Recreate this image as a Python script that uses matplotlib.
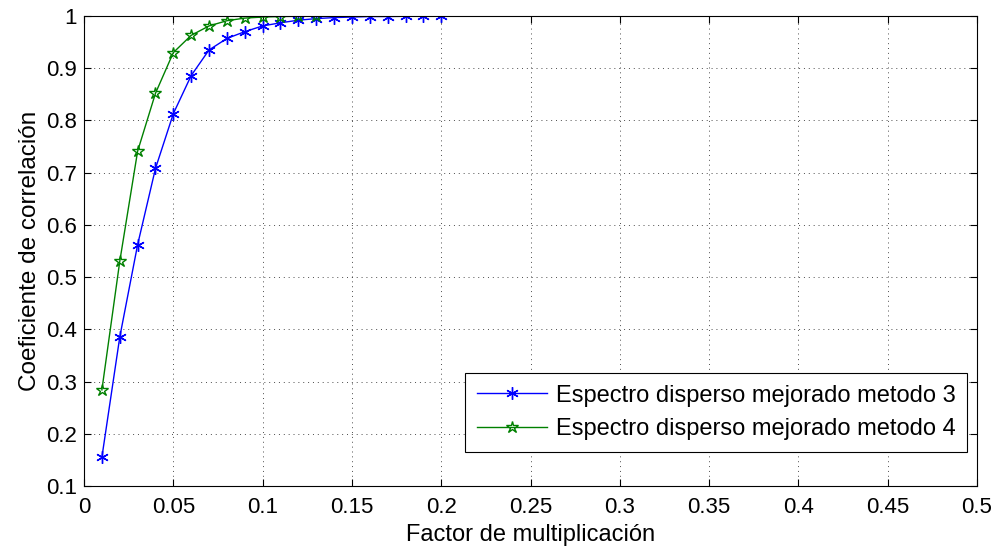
import matplotlib
matplotlib.use("Agg")
import matplotlib.pyplot as plt

plt.rcParams["font.family"] = ["Liberation Sans", "DejaVu Sans"]

# --- Data ---
x_m3 = [0.01, 0.02, 0.03, 0.04, 0.05, 0.06, 0.07, 0.08, 0.09, 0.10,
        0.11, 0.12, 0.13, 0.14, 0.15, 0.16, 0.17, 0.18, 0.19, 0.20]
y_m3 = [0.155, 0.385, 0.562, 0.708, 0.813, 0.886, 0.935, 0.957, 0.970, 0.981,
        0.987, 0.992, 0.995, 0.997, 0.998, 0.999, 0.999, 0.9995, 0.9997, 0.9998]

x_m4 = [0.01, 0.02, 0.03, 0.04, 0.05, 0.06, 0.07, 0.08, 0.09, 0.10,
        0.11, 0.12, 0.13]
y_m4 = [0.284, 0.530, 0.741, 0.852, 0.930, 0.963, 0.981, 0.991, 0.996, 0.998,
        0.999, 0.9995, 0.9997]

labels = ["Espectro disperso mejorado metodo 3",
          "Espectro disperso mejorado metodo 4"]

fig = plt.figure(figsize=(9.98, 5.5), dpi=100)
ax = fig.add_axes([0.0842, 0.1164, 0.8948, 0.8545])

ax.plot(x_m3, y_m3, color="#0000ff", lw=1.0, marker=(6, 2, 0), ms=9,
        markeredgewidth=1.0, label=labels[0])
ax.plot(x_m4, y_m4, color="#008000", lw=1.0, marker="*", ms=9,
        markerfacecolor="none", markeredgewidth=1.0, label=labels[1])

ax.set_xlim(0, 0.5)
ax.set_ylim(0.1, 1.0)
ax.set_xticks([i * 0.05 for i in range(11)])
ax.set_xticklabels(["0", "0.05", "0.1", "0.15", "0.2", "0.25", "0.3",
                    "0.35", "0.4", "0.45", "0.5"])
ax.set_yticks([0.1 * i for i in range(1, 11)])
ax.set_yticklabels(["0.1", "0.2", "0.3", "0.4", "0.5", "0.6", "0.7",
                    "0.8", "0.9", "1"])

ax.tick_params(direction="in", top=True, right=True, labelsize=16,
               length=5, width=0.8, pad=5)
ax.tick_params(axis="x", pad=8)
ax.grid(True, linestyle=(0, (1, 4)), color="black", lw=0.7, alpha=0.7)
for s in ax.spines.values():
    s.set_linewidth(0.8)

ax.set_xlabel("Factor de multiplicación", fontsize=17, labelpad=4)
ax.set_ylabel("Coeficiente de correlación", fontsize=17.5, labelpad=4)

leg = ax.legend(loc="lower right", bbox_to_anchor=(0.989, 0.072),
                fontsize=17, fancybox=False, edgecolor="black",
                framealpha=1, handlelength=3.0, borderaxespad=0,
                labelspacing=0.5, borderpad=0.5, handletextpad=0.35)
leg.get_frame().set_linewidth(0.8)

fig.savefig("out.png", dpi=100)
